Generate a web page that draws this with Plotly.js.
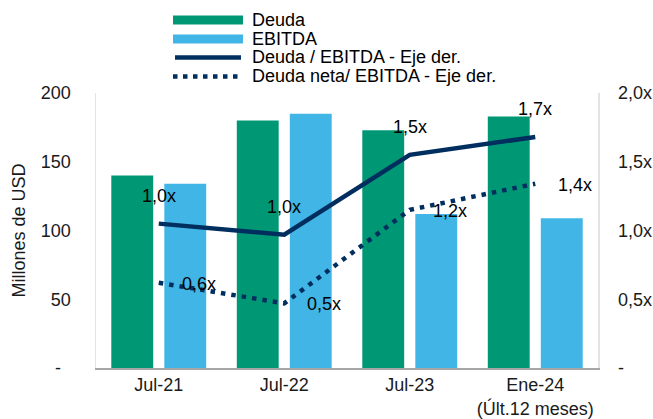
<!DOCTYPE html>
<html>
<head>
<meta charset="utf-8">
<script src="https://cdn.plot.ly/plotly-3.0.1.min.js"></script>
<style>html,body{margin:0;padding:0;background:#fff;}#chart{width:653px;height:419px;}</style>
</head>
<body>
<div id="chart"></div>
<script>
var categories = ['Jul-21', 'Jul-22', 'Jul-23', 'Ene-24<br>(Últ.12 meses)'];
var deuda = [140, 180, 173, 183];
var ebitda = [134, 185, 112, 109];
var deudaEbitda = [1.05, 0.97, 1.55, 1.68];
var deudaNetaEbitda = [0.62, 0.47, 1.15, 1.34];
var deudaEbitdaLabels = ['1,0x', '1,0x', '1,5x', '1,7x'];
var deudaNetaLabels = ['0,6x', '0,5x', '1,2x', '1,4x'];
var leftTickVals = [0, 50, 100, 150, 200];
var leftTickText = ['-\u00a0\u00a0', '50', '100', '150', '200'];
var rightTickVals = [0, 0.5, 1, 1.5, 2];
var rightTickText = ['-', '0,5x', '1,0x', '1,5x', '2,0x'];
var legendNames = ['Deuda', 'EBITDA', 'Deuda / EBITDA - Eje der.', 'Deuda neta/ EBITDA - Eje der.'];

var GREEN = '#009874', BLUE = '#41b6e6', NAVY = '#002f5f';
var FONT = 'Liberation Sans, Arial, sans-serif';

var traces = [
  {type: 'bar', x: categories, y: deuda, name: legendNames[0], marker: {color: GREEN}, yaxis: 'y'},
  {type: 'bar', x: categories, y: ebitda, name: legendNames[1], marker: {color: BLUE}, yaxis: 'y'},
  {type: 'scatter', mode: 'lines', x: categories, y: deudaEbitda, name: legendNames[2], yaxis: 'y2',
   line: {color: NAVY, width: 4.5}},
  {type: 'scatter', mode: 'lines', x: categories, y: deudaNetaEbitda, name: legendNames[3], yaxis: 'y2',
   line: {color: NAVY, width: 4.5, dash: '4.5px,6px'}}
];

var annotations = [];
for (var i = 0; i < categories.length; i++) {
  annotations.push({x: categories[i], y: deudaEbitda[i], xref: 'x', yref: 'y2', text: deudaEbitdaLabels[i],
    showarrow: false, yshift: 28, xanchor: 'center', yanchor: 'middle', font: {family: FONT, size: 18, color: '#000'}});
  annotations.push({x: categories[i], y: deudaNetaEbitda[i], xref: 'x', yref: 'y2', text: deudaNetaLabels[i],
    showarrow: false, xshift: 40, yshift: -1, xanchor: 'center', yanchor: 'middle', font: {family: FONT, size: 18, color: '#000'}});
}

// custom legend
var legY = [1.2655, 1.1964, 1.1291, 1.06];
var lx0 = 0.1534, lx1 = 0.2928, ltx = 0.3068;
var shapes = [
  {type: 'rect', xref: 'paper', yref: 'paper', x0: lx0, x1: lx1, y0: legY[0] - 0.0164, y1: legY[0] + 0.0164, fillcolor: GREEN, line: {width: 0}},
  {type: 'rect', xref: 'paper', yref: 'paper', x0: lx0, x1: lx1, y0: legY[1] - 0.0164, y1: legY[1] + 0.0164, fillcolor: BLUE, line: {width: 0}},
  {type: 'line', xref: 'paper', yref: 'paper', x0: lx0 + 0.004, x1: lx1 - 0.004, y0: legY[2], y1: legY[2], line: {color: NAVY, width: 4.5}},
  {type: 'line', xref: 'paper', yref: 'paper', x0: lx0, x1: lx1, y0: legY[3], y1: legY[3], line: {color: NAVY, width: 4.5, dash: '4.5px,5.5px'}}
];
for (var j = 0; j < legendNames.length; j++) {
  annotations.push({xref: 'paper', yref: 'paper', x: ltx, y: legY[j], text: legendNames[j], showarrow: false,
    xanchor: 'left', yanchor: 'middle', font: {family: FONT, size: 18, color: '#000'}});
}

var layout = {
  width: 653, height: 419,
  margin: {l: 96, r: 55, t: 93, b: 51},
  paper_bgcolor: '#fff', plot_bgcolor: '#fff',
  font: {family: FONT, size: 18, color: '#1a1a1a'},
  showlegend: false,
  barmode: 'group', bargap: 0.155, bargroupgap: 0.21,
  xaxis: {type: 'category', showline: true, linecolor: '#a6a6a6', linewidth: 1.5, ticks: '', showgrid: false,
    tickfont: {family: FONT, size: 18, color: '#1a1a1a'}, automargin: false},
  yaxis: {range: [0, 200], tickvals: leftTickVals, ticktext: leftTickText, showgrid: false, zeroline: false,
    showline: true, linecolor: '#e3e3e3', linewidth: 1.5, ticks: '', ticklabelstandoff: 20,
    title: {text: 'Millones de USD', font: {family: FONT, size: 18, color: '#1a1a1a'}, standoff: 10},
    tickfont: {family: FONT, size: 18, color: '#1a1a1a'}, automargin: false, fixedrange: true},
  yaxis2: {range: [0, 2], overlaying: 'y', side: 'right', tickvals: rightTickVals, ticktext: rightTickText,
    showgrid: false, zeroline: false, showline: true, linecolor: '#e3e3e3', linewidth: 1.5, ticks: '',
    ticklabelstandoff: 15, tickfont: {family: FONT, size: 18, color: '#1a1a1a'}, automargin: false},
  annotations: annotations,
  shapes: shapes
};

Plotly.newPlot('chart', traces, layout, {displayModeBar: false, staticPlot: true});
</script>
</body>
</html>
